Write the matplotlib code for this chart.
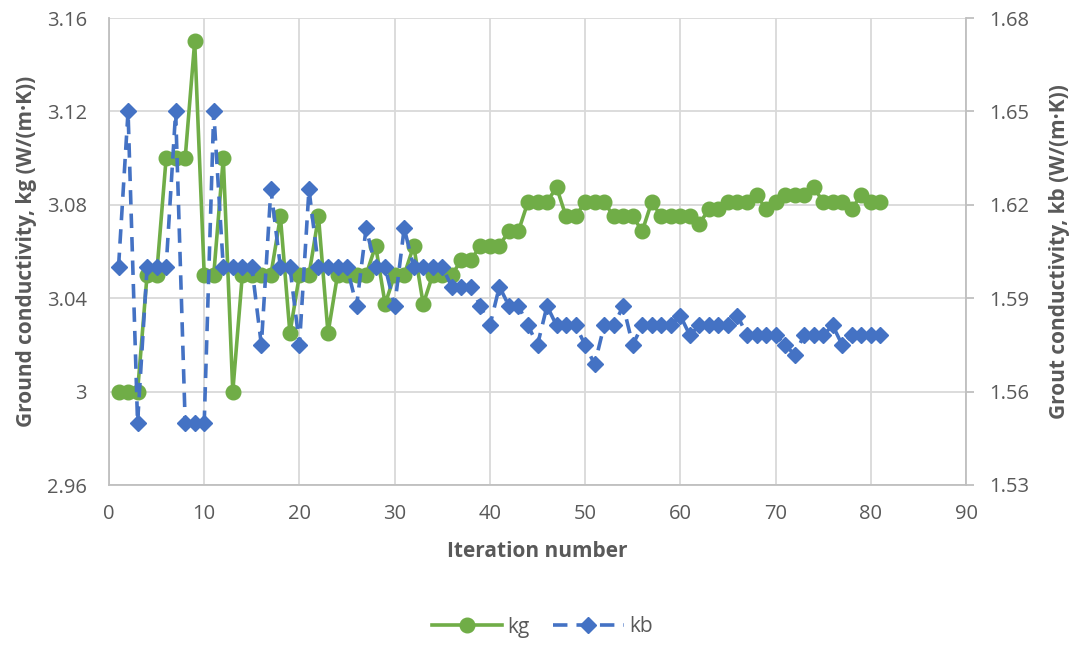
import matplotlib
matplotlib.use("Agg")
import matplotlib.pyplot as plt
from matplotlib.lines import Line2D

plt.rcParams['font.family'] = ['Open Sans', 'DejaVu Sans']

iterations = list(range(1, 82))
kg = [3.00, 3.00, 3.00, 3.05, 3.05, 3.10, 3.10, 3.10, 3.15, 3.05,
      3.05, 3.10, 3.00, 3.05, 3.05, 3.05, 3.05, 3.075, 3.025, 3.05,
      3.05, 3.075, 3.025, 3.05, 3.05, 3.05, 3.05, 3.0625, 3.0375, 3.05,
      3.05, 3.0625, 3.0375, 3.05, 3.05, 3.05, 3.05625, 3.05625, 3.0625, 3.0625,
      3.0625, 3.06875, 3.06875, 3.08125, 3.08125, 3.08125, 3.0875, 3.075, 3.075, 3.08125,
      3.08125, 3.08125, 3.075, 3.075, 3.075, 3.06875, 3.08125, 3.075, 3.075, 3.075,
      3.075, 3.071875, 3.078125, 3.078125, 3.08125, 3.08125, 3.08125, 3.084375, 3.078125, 3.08125,
      3.084375, 3.084375, 3.084375, 3.0875, 3.08125, 3.08125, 3.08125, 3.078125, 3.084375, 3.08125,
      3.08125]
kb = [1.60, 1.65, 1.55, 1.60, 1.60, 1.60, 1.65, 1.55, 1.55, 1.55,
      1.65, 1.60, 1.60, 1.60, 1.60, 1.575, 1.625, 1.60, 1.60, 1.575,
      1.625, 1.60, 1.60, 1.60, 1.60, 1.5875, 1.6125, 1.60, 1.60, 1.5875,
      1.6125, 1.60, 1.60, 1.60, 1.60, 1.59375, 1.59375, 1.59375, 1.5875, 1.58125,
      1.59375, 1.5875, 1.5875, 1.58125, 1.575, 1.5875, 1.58125, 1.58125, 1.58125, 1.575,
      1.56875, 1.58125, 1.58125, 1.5875, 1.575, 1.58125, 1.58125, 1.58125, 1.58125, 1.584375,
      1.578125, 1.58125, 1.58125, 1.58125, 1.58125, 1.584375, 1.578125, 1.578125, 1.578125, 1.578125,
      1.575, 1.571875, 1.578125, 1.578125, 1.578125, 1.58125, 1.575, 1.578125, 1.578125, 1.578125,
      1.578125]

left_ticks = [2.96, 3.00, 3.04, 3.08, 3.12, 3.16]
left_labels = ['2.96', '3', '3.04', '3.08', '3.12', '3.16']
right_ticks = [1.53, 1.56, 1.59, 1.62, 1.65, 1.68]
right_labels = ['1.53', '1.56', '1.59', '1.62', '1.65', '1.68']
x_ticks = list(range(0, 91, 10))

green = '#70AD47'
blue = '#4472C4'
grey_txt = '#595959'
grid_c = '#D9D9D9'

fig = plt.figure(figsize=(10.78, 6.46), dpi=100)
ax = fig.add_axes([109/1078, 1-485/646, (966-109)/1078, (485-18)/646])
ax2 = ax.twinx()

ax.plot(iterations, kg, color=green, lw=2.6, marker='o', ms=10.5,
        markerfacecolor=green, markeredgecolor=green, zorder=3, label='kg')
ax2.plot(iterations, kb, color=blue, lw=2.6, ls=(0, (4, 2.5)), marker='D', ms=8,
         markerfacecolor=blue, markeredgecolor=blue, zorder=3, label='kb')

ax.set_xlim(0, 90)
ax.set_ylim(2.96, 3.16)
ax2.set_ylim(1.53, 1.68)
ax.set_xticks(x_ticks)
ax.set_yticks(left_ticks)
ax.set_yticklabels(left_labels)
ax2.set_yticks(right_ticks)
ax2.set_yticklabels(right_labels)

ax.grid(True, color=grid_c, lw=1.3)
ax.set_axisbelow(True)

for a in (ax, ax2):
    for s in a.spines.values():
        s.set_visible(False)
ax.spines['left'].set_visible(True)
ax.spines['left'].set_color('#BFBFBF')
ax.spines['left'].set_linewidth(1.3)
ax.spines['bottom'].set_visible(True)
ax.spines['bottom'].set_color('#BFBFBF')
ax.spines['bottom'].set_linewidth(1.3)
ax2.spines['right'].set_visible(True)
ax2.spines['right'].set_color('#BFBFBF')
ax2.spines['right'].set_linewidth(1.3)

ax.tick_params(axis='y', length=0, labelsize=14.5, colors=grey_txt, pad=16)
ax.tick_params(axis='x', length=0, labelsize=14.5, colors=grey_txt, pad=14)
ax2.tick_params(axis='y', length=6, width=1.3, color='#BFBFBF', labelsize=14.5,
                labelcolor=grey_txt, pad=11)

ax.set_xlabel('Iteration number', fontsize=15, fontweight='bold', color=grey_txt, labelpad=12)
ax.set_ylabel('Ground conductivity, kg (W/(m·K))', fontsize=15, fontweight='bold',
              color=grey_txt, labelpad=7)
ax2.set_ylabel('Grout conductivity, kb (W/(m·K))', fontsize=15, fontweight='bold',
               color=grey_txt, labelpad=14)

handles = [Line2D([], [], color=green, lw=2.6, marker='o', ms=10.5),
           Line2D([], [], color=blue, lw=2.6, ls=(0, (4, 2.5)), marker='D', ms=8)]
fig.legend(handles, ['kg', 'kb'], loc='center', bbox_to_anchor=(542/1078, 1-627/646),
           ncol=2, frameon=False, fontsize=15, labelcolor=grey_txt,
           handlelength=3.4, columnspacing=1.1, handletextpad=0.25)

fig.savefig('out.png', dpi=100)
